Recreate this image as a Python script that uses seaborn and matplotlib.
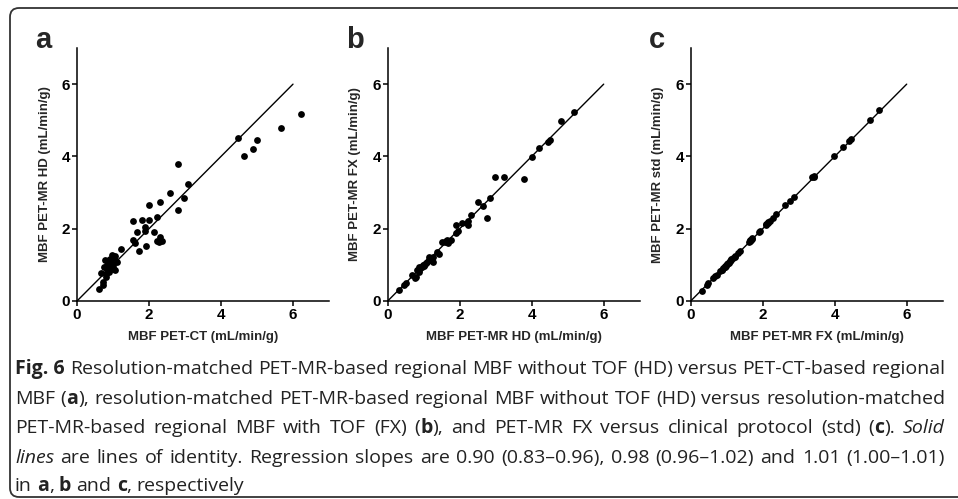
import matplotlib
matplotlib.use("Agg")
import matplotlib.pyplot as plt
import seaborn as sns
from matplotlib.patches import FancyBboxPatch
from matplotlib.transforms import IdentityTransform

# MBF values per region (mL/min/g)
pet_ct = [6.21, 5.67, 4.47, 5.00, 4.88, 4.65, 2.80, 3.07, 2.58, 2.96,
          2.31, 2.01, 2.80, 2.23, 1.56, 1.80, 2.01, 1.88, 1.89, 1.66,
          2.13, 1.56, 1.62, 2.31, 2.23, 2.36, 2.27, 1.93, 1.71, 1.21,
          0.61, 0.72, 0.73, 0.67, 0.80, 0.83, 0.78, 0.87, 0.89, 0.92,
          1.01, 1.04, 1.06, 0.97, 1.11, 0.89, 0.99, 0.76, 0.83, 1.06,
          0.92, 0.80, 0.95, 1.00, 0.86]
mr_hd = [5.18, 4.80, 4.50, 4.46, 4.20, 4.02, 3.79, 3.24, 2.98, 2.84,
         2.75, 2.66, 2.51, 2.32, 2.20, 2.23, 2.24, 2.06, 1.95, 1.90,
         1.90, 1.69, 1.60, 1.76, 1.67, 1.65, 1.63, 1.51, 1.37, 1.43,
         0.32, 0.44, 0.52, 0.78, 0.67, 0.86, 1.14, 1.04, 1.14, 0.95,
         1.00, 1.20, 0.86, 1.27, 1.09, 0.81, 0.88, 0.93, 0.99, 1.25,
         1.15, 0.76, 1.07, 0.90, 1.00]
mr_fx = [5.22, 4.99, 4.46, 4.40, 4.23, 3.98, 3.38, 3.43, 3.43, 2.86,
         2.29, 2.63, 2.75, 2.38, 2.16, 2.20, 2.10, 2.16, 1.93, 2.10,
         1.89, 1.67, 1.64, 1.69, 1.61, 1.70, 1.66, 1.64, 1.36, 1.31,
         0.30, 0.44, 0.49, 0.67, 0.72, 0.81, 1.13, 1.03, 1.22, 0.94,
         1.00, 1.17, 0.86, 1.09, 1.09, 0.86, 0.94, 0.94, 1.00, 1.22,
         1.13, 0.63, 1.05, 0.90, 0.97]
mr_std = [5.28, 5.00, 4.48, 4.43, 4.26, 4.02, 3.42, 3.47, 3.44, 2.88,
          2.31, 2.65, 2.76, 2.40, 2.18, 2.22, 2.12, 2.17, 1.95, 2.10,
          1.91, 1.70, 1.66, 1.72, 1.63, 1.73, 1.68, 1.65, 1.38, 1.33,
          0.29, 0.45, 0.50, 0.68, 0.73, 0.82, 1.14, 1.05, 1.24, 0.95,
          1.01, 1.19, 0.87, 1.10, 1.11, 0.85, 0.93, 0.96, 1.02, 1.23,
          1.15, 0.65, 1.06, 0.91, 0.98]

identity = [0, 6]
ticks = [0, 2, 4, 6]

panels = [
    ("a", pet_ct, mr_hd, "MBF PET-CT (mL/min/g)", "MBF PET-MR HD (mL/min/g)"),
    ("b", mr_hd, mr_fx, "MBF PET-MR HD (mL/min/g)", "MBF PET-MR FX (mL/min/g)"),
    ("c", mr_fx, mr_std, "MBF PET-MR FX (mL/min/g)", "MBF PET-MR std (mL/min/g)"),
]

# caption lines: (text, style) with n=normal, b=bold, i=italic
caption = [
    [("Fig.\u00a06", "b"), (" Resolution-matched PET-MR-based regional MBF without TOF (HD) versus PET-CT-based regional", "n")],
    [("MBF (", "n"), ("a", "b"), ("), resolution-matched PET-MR-based regional MBF without TOF (HD) versus resolution-matched", "n")],
    [("PET-MR-based regional MBF with TOF (FX) (", "n"), ("b", "b"), ("), and PET-MR FX versus clinical protocol (std) (", "n"),
     ("c", "b"), ("). ", "n"), ("Solid", "i")],
    [("lines", "i"), (" are lines of identity. Regression slopes are 0.90 (0.83\u20130.96), 0.98 (0.96\u20131.02) and 1.01 (1.00\u20131.01)", "n")],
    [("in ", "n"), ("a", "b"), (", ", "n"), ("b", "b"), (" and ", "n"), ("c", "b"), (", respectively", "n")],
]

sns.set_style("ticks")
plt.rcParams["font.family"] = ["Liberation Sans", "DejaVu Sans"]

W, H = 958, 499
fig = plt.figure(figsize=(W / 100, H / 100), dpi=100)

# frame around the figure
frame = FancyBboxPatch((10, 2), 1000, 489, boxstyle="round,pad=0,rounding_size=9",
                       transform=IdentityTransform(), fill=False,
                       edgecolor="#333333", linewidth=1.3)
fig.patches.append(frame)

lefts = [77, 387.7, 690.7]
for (letter, xs, ys, xlab, ylab), left in zip(panels, lefts):
    ax = fig.add_axes([left / W, (H - 301) / H, 252 / W, 253 / H])
    sns.lineplot(x=identity, y=identity, ax=ax, color="black", linewidth=1.0)
    sns.scatterplot(x=xs, y=ys, ax=ax, color="black", s=24, linewidth=0)
    ax.set_xlim(0, 7)
    ax.set_ylim(0, 7)
    ax.set_xticks(ticks)
    ax.set_yticks(ticks)
    sns.despine(ax=ax)
    for sp in ax.spines.values():
        sp.set_linewidth(1.1)
        sp.set_color("black")
    ax.tick_params(direction="out", length=3.5, width=1.1, pad=1.5,
                   labelsize=11, colors="black")
    for lab in ax.get_xticklabels() + ax.get_yticklabels():
        lab.set_fontweight("bold")
    ax.set_xlabel(xlab, fontsize=9.5, fontweight="bold")
    ax.set_ylabel(ylab, fontsize=9.5, fontweight="bold")
    ax.xaxis.set_label_coords(0.5, -0.12)
    ax.yaxis.set_label_coords(-0.105, 0.5)
    fig.text((left - 42) / W, (H - 48) / H, letter, fontsize=21,
             fontweight="bold", ha="left", va="baseline")

# justified caption
renderer = fig.canvas.get_renderer()
cap_font = dict(family=["Open Sans", "DejaVu Sans"], fontsize=14, color="#222222")
styles = {"n": dict(), "b": dict(fontweight="bold"), "i": dict(fontstyle="italic")}
x0, x1 = 15, 945
baselines = [374, 404, 433, 463, 491]


def seg_width(txt, st):
    t = fig.text(0, 0, txt, **cap_font, **styles[st])
    w = t.get_window_extent(renderer).width
    t.remove()
    return w


space = seg_width("a a", "n") - seg_width("aa", "n")
for li, (segs, yb) in enumerate(zip(caption, baselines)):
    words = [[]]
    for txt, st in segs:
        parts = txt.split(" ")
        for k, p in enumerate(parts):
            if k > 0:
                words.append([])
            if p:
                words[-1].append((p, st))
    words = [w for w in words if w]
    widths = [[seg_width(p, st) for p, st in w] for w in words]
    total = sum(sum(w) for w in widths)
    if li < len(caption) - 1:
        gap = (x1 - x0 - total) / (len(words) - 1)
    else:
        gap = space
    x = x0
    for w, ws in zip(words, widths):
        for (p, st), sw in zip(w, ws):
            fig.text(x / W, (H - yb) / H, p, ha="left", va="baseline",
                     **cap_font, **styles[st])
            x += sw
        x += gap

fig.savefig("out.png", dpi=100)
